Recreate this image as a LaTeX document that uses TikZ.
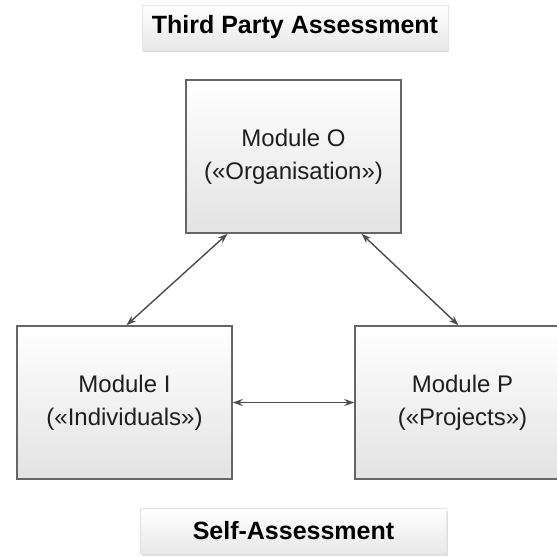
\documentclass[tikz,border=0pt]{standalone}
\usepackage{fontspec}
\setmainfont{Liberation Sans}
\usetikzlibrary{arrows.meta,shadows}
\begin{document}
\begin{tikzpicture}[x=1pt,y=-1pt,
module/.style={draw=black!60,line width=1.5pt,top color=white,bottom color=black!11,minimum width=215pt,minimum height=153pt,align=center,text=black!88,font=\fontsize{24}{33}\selectfont},
level/.style={draw=black!10,top color=white,bottom color=black!9,minimum width=306pt,minimum height=45pt,font=\bfseries\fontsize{25}{30}\selectfont,drop shadow={shadow xshift=1pt,shadow yshift=-2pt,fill=black!25}},
link/.style={{Stealth[length=10pt,width=7pt]}-{Stealth[length=10pt,width=7pt]},draw=black!70,line width=1.4pt}]
\useasboundingbox (0,0) rectangle (557,555);
\node[level] (T) at (295,27.5){Third Party Assessment};
\node[level] (S) at (293.5,531){Self-Assessment};
\node[module] (O) at (293.5,156.5){Module O\\(«Organisation»)};
\node[module] (I) at (124.5,402.5){Module I\\(«Individuals»)};
\node[module] (P) at (462.5,402.5){Module P\\(«Projects»)};
\draw[link] ([xshift=-66pt]O.south)--([xshift=2pt]I.north);
\draw[link] ([xshift=68pt]O.south)--([xshift=-4pt]P.north);
\draw[link] (I)--(P);
\end{tikzpicture}
\end{document}
